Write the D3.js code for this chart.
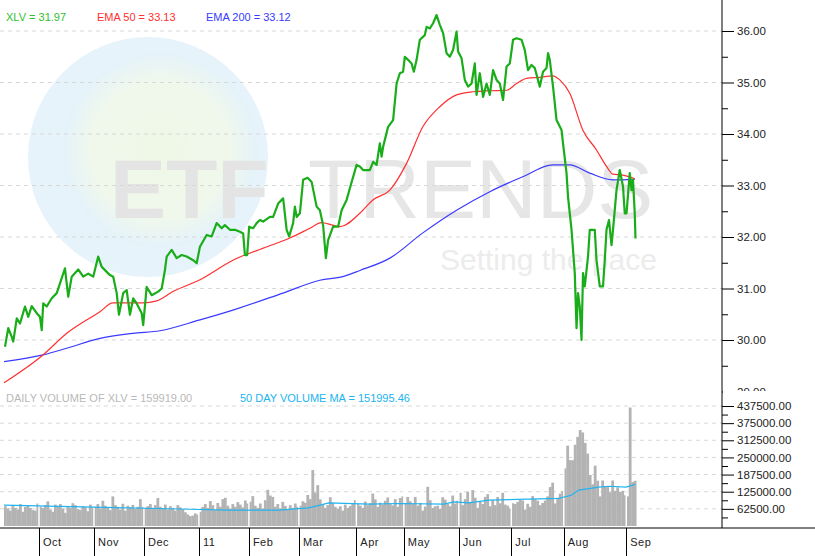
<!DOCTYPE html>
<html>
<head>
<meta charset="utf-8">
<script src="https://cdn.jsdelivr.net/npm/d3@7"></script>
<style>
  body { margin: 0; background: #fff; }
  text { font-family: "Liberation Sans", Arial, sans-serif; }
</style>
</head>
<body>
<div id="chart"></div>
<script>
// trading-day index (0 = mid Sep 2010) and XLV close
var priceDay = [0.4,1.7,3.1,3.7,5.1,6.4,8.4,9.7,11.1,13.1,14.4,15.1,15.7,17.1,19.1,21.1,22.4,24.4,25.7,27.1,29.7,31.7,33.7,35.7,37.7,39.1,42.4,43.7,45.1,46,47.7,49.1,50.4,51.7,53.1,55.1,55.7,57.1,59.1,61.7,63.1,64.4,65.1,67.1,69.1,71.1,73.1,75.7,77.1,78.4,81.1,83.1,85.1,87.1,88.4,90.4,92.4,94.4,95.7,96.4,97.3,98.1,99.7,101.1,102.4,103.7,106.4,107.7,109.7,111.7,113.1,114.1,115.7,116.4,117.1,118.4,119.7,121.5,123.1,125.1,126.4,127.7,128.8,129.7,131.7,133.7,135.1,137.1,139,141.1,142.4,143.7,146.4,147.7,149.1,150.4,151.1,151.7,153.7,155.7,157.1,158.4,159.7,160.4,161.7,163.1,164,165.1,166.4,168.4,169.1,170.4,171.7,173.1,174.4,175.7,177.1,178.4,179.7,181.1,181.7,183.1,184.4,185.7,187.1,188.4,189.1,190.4,191.7,193.1,194.4,195.7,197.1,198.4,199.7,201.1,202.4,203.7,205.1,207.1,208.4,209.7,211.1,212.4,214.4,215.7,217.1,217.7,218.4,219.7,221.1,223.1,223.7,225.1,225.7,227.1,227.7,228.4,229.1,229.7,230.4,231.1,231.7,232.4,233.7,234.4,236.4,237.1,238.4,239.7,240.4,241.1,242.1,243.1,243.7,245.1,246.4,247.7,248.4,249.1,250.4,251.1,251.7,252.4,252.7];
var priceClose = [29.87,30.23,30.06,29.97,30.42,30.32,30.65,30.45,30.66,30.52,30.45,30.19,30.71,30.65,30.81,30.91,31.10,31.39,30.84,31.23,31.37,31.23,31.29,31.23,31.62,31.42,31.26,31.23,30.91,30.49,30.91,30.97,30.49,30.81,30.71,30.52,30.29,31.03,30.87,30.94,31.00,31.36,31.62,31.75,31.59,31.65,31.62,31.55,31.49,31.81,32.04,32.01,32.27,32.17,32.23,32.14,32.14,32.10,32.07,31.65,31.65,32.20,32.17,32.27,32.33,32.30,32.39,32.39,32.65,32.75,32.14,32.01,32.27,32.59,32.39,32.46,33.11,33.15,33.07,32.59,32.52,32.23,31.59,31.94,32.20,32.20,32.52,32.72,33.05,33.40,33.37,33.30,33.30,33.46,33.40,33.82,33.56,33.75,34.14,34.27,34.98,35.18,35.21,35.50,35.44,35.37,35.21,35.44,35.83,35.92,36.08,36.05,36.15,36.31,36.12,35.96,35.57,35.50,35.63,35.99,35.60,35.47,35.05,34.92,34.98,35.37,34.76,35.18,34.72,34.98,34.76,35.24,35.05,34.98,34.66,35.31,35.37,35.83,35.86,35.83,35.63,35.24,35.34,35.28,34.92,35.21,35.28,35.57,35.44,34.92,34.27,34.08,33.82,33.24,32.78,32.14,31.75,31.30,30.23,30.91,30.65,30.00,31.30,31.04,31.62,32.14,32.14,31.55,31.04,31.04,31.55,32.14,32.33,31.84,32.14,32.91,33.30,32.98,32.46,32.46,33.24,32.91,33.11,32.46,31.97];

var ema50Day = [0,15.6,25.1,38.4,43.6,55.6,61.1,67.6,78.4,91.6,105.2,114.4,122.4,127.1,131.6,134.4,142.4,147.6,154.4,161.1,167.6,174.4,181.1,187.6,194.4,201.1,205.1,209.1,214.4,219.6,222.4,226.4,231.6,237.1,241.1,243.6,247.6,252.4];
var ema50Val = [29.17,29.71,30.13,30.55,30.72,30.72,30.76,30.94,31.17,31.55,31.81,31.98,32.17,32.28,32.23,32.20,32.46,32.72,32.91,33.43,34.14,34.53,34.76,34.82,34.84,34.85,34.98,35.08,35.10,35.13,35.05,34.79,34.08,33.69,33.37,33.22,33.20,33.13];

var ema200Day = [0,15.6,25.1,38.4,51.6,62.4,78.4,91.6,111.6,126.4,135.6,142.4,154.4,167.6,181.1,194.4,207.6,219.6,226.4,234.4,243.6,252.4];
var ema200Val = [29.58,29.71,29.84,30.03,30.13,30.18,30.39,30.58,30.91,31.16,31.23,31.35,31.59,32.08,32.52,32.88,33.17,33.40,33.40,33.24,33.11,33.12];

// daily volume, thousands of shares
var volume = [
 72,64,56,76,66,60,80,52,70,74,66,58,56,82,
 70,66,76,90,60,52,78,72,80,64,48,70,66,83,76,62,58,72,68,54,78,66,
 70,80,64,92,74,66,58,108,76,70,60,81,56,74,68,77,62,70,98,70,
 66,72,80,66,76,102,70,64,78,60,72,66,56,76,68,62,50,42,36,38,46,42,
 52,70,80,66,91,76,58,84,70,98,103,74,64,80,70,87,78,68,93,82,
 89,109,74,66,82,64,94,132,111,106,70,80,64,88,73,60,76,66,82,70,
 74,90,85,113,98,204,122,149,97,80,66,76,105,83,70,62,72,56,78,66,73,81,95,
 80,74,66,89,76,83,118,97,70,85,79,92,104,80,75,98,70,102,108,
 84,106,90,80,106,74,84,56,71,143,94,66,72,74,62,105,96,80,72,111,82,92,
 121,76,98,125,88,131,103,66,90,80,106,116,72,95,76,106,83,121,78,74,64,
 83,80,88,95,93,60,81,70,109,98,92,76,84,93,108,142,158,82,103,118,127,
 210,293,240,240,296,325,350,341,303,264,186,152,220,165,108,166,146,142,123,166,128,141,124,128,112,
 108,432,160,165
];
var vmaDay = [0,40,70,90,110,122,130,146,158,176,180,186,194,222,227,230,238,242,249,252.5];
var vmaVal = [76,68,62,58,58,66,84,80,82,80,88,84,94,101,112,131,142,145,142,152];

var priceTicks = [30,31,32,33,34,35,36];
var volTicks = [62500,125000,187500,250000,312500,375000,437500];
var monthDay = [14,36,56,78,98,118,141,160,182,203,224,249];
var monthLabel = ["Oct","Nov","Dec","11","Feb","Mar","Apr","May","Jun","Jul","Aug","Sep"];

var W = 815, H = 556, axisX = 722, priceTop = 8, priceBot = 392, volTop = 392, volBot = 527;

var svg = d3.select("#chart").append("svg").attr("width", W).attr("height", H);

var x = d3.scaleLinear().domain([0, 252.5]).range([4, 635]);
var y = d3.scaleLinear().domain([30, 36]).range([340, 31]);
var yv = d3.scaleLinear().domain([0, 437500]).range([526, 406]);

svg.append("defs").append("clipPath").attr("id", "pclip")
   .append("rect").attr("x", 0).attr("y", priceTop).attr("width", axisX).attr("height", priceBot - priceTop);
svg.select("defs").append("clipPath").attr("id", "vclip")
   .append("rect").attr("x", 0).attr("y", volTop).attr("width", axisX).attr("height", volBot - volTop);
var grad = svg.select("defs").append("radialGradient").attr("id", "glow");
grad.append("stop").attr("offset", "0%").attr("stop-color", "#eef8e6");
grad.append("stop").attr("offset", "70%").attr("stop-color", "#f0f8ec");
grad.append("stop").attr("offset", "100%").attr("stop-color", "#e4f2fa");

// watermark
svg.append("circle").attr("cx", 148).attr("cy", 157).attr("r", 120).attr("fill", "#e6f3fb");
svg.append("circle").attr("cx", 160).attr("cy", 150).attr("r", 98).attr("fill", "url(#glow)");
svg.append("text").attr("x", 110).attr("y", 218).style("font-size", "84px").style("font-weight", "bold")
   .attr("fill", "#e4e4e4").text("ETF");
svg.append("text").attr("x", 308).attr("y", 218).style("font-size", "84px")
   .attr("fill", "#e6e6e6").text("TRENDS");
svg.append("text").attr("x", 440).attr("y", 270).style("font-size", "30px")
   .attr("fill", "#ececec").text("Setting the pace");

// grid
svg.append("g").selectAll("line").data(priceTicks).enter().append("line")
   .attr("x1", 0).attr("x2", axisX).attr("y1", d => y(d)).attr("y2", d => y(d))
   .attr("stroke", "#d8d8d8").attr("stroke-dasharray", "4,4");
svg.append("g").selectAll("line").data(volTicks).enter().append("line")
   .attr("x1", 0).attr("x2", axisX).attr("y1", d => yv(d)).attr("y2", d => yv(d))
   .attr("stroke", "#d8d8d8").attr("stroke-dasharray", "4,4");

// volume bars
var bw = x(1) - x(0);
svg.append("g").attr("clip-path", "url(#vclip)").selectAll("rect").data(volume).enter().append("rect")
   .attr("x", (d, i) => x(i)).attr("width", bw + 0.3)
   .attr("y", d => yv(d * 1000)).attr("height", d => yv(0) - yv(d * 1000))
   .attr("fill", "#b3b3b3");
svg.append("g").selectAll("line").data(monthDay).enter().append("line")
   .attr("x1", d => x(d)).attr("x2", d => x(d)).attr("y1", 440).attr("y2", volBot)
   .attr("stroke", "#fff").attr("stroke-width", 1.5);

var vline = d3.line().x(d => x(d[0])).y(d => yv(d[1] * 1000));
svg.append("path").datum(d3.zip(vmaDay, vmaVal)).attr("d", vline)
   .attr("fill", "none").attr("stroke", "#20b4f0").attr("stroke-width", 1.2);

// price lines
var pline = d3.line().x(d => x(d[0])).y(d => y(d[1]));
var pg = svg.append("g").attr("clip-path", "url(#pclip)");
pg.append("path").datum(d3.zip(ema200Day, ema200Val)).attr("d", pline.curve(d3.curveMonotoneX))
  .attr("fill", "none").attr("stroke", "#3a3aff").attr("stroke-width", 1.2);
pg.append("path").datum(d3.zip(ema50Day, ema50Val)).attr("d", pline)
  .attr("fill", "none").attr("stroke", "#ff3030").attr("stroke-width", 1.2);
pg.append("path").datum(d3.zip(priceDay, priceClose)).attr("d", d3.line().x(d => x(d[0])).y(d => y(d[1])))
  .attr("fill", "none").attr("stroke", "#1aad1a").attr("stroke-width", 2.2).attr("stroke-linejoin", "round");

// legends
var leg = [["XLV = 31.97", "#2fbf2f", 6], ["EMA 50 = 33.13", "#ff3030", 97], ["EMA 200 = 33.12", "#3a3aff", 206]];
svg.append("g").selectAll("text").data(leg).enter().append("text")
   .attr("x", d => d[2]).attr("y", 21).attr("fill", d => d[1]).style("font-size", "11px").text(d => d[0]);
svg.append("text").attr("x", 6).attr("y", 402).attr("fill", "#b8b8b8").style("font-size", "11px")
   .text("DAILY VOLUME OF XLV = 159919.00");
svg.append("text").attr("x", 240).attr("y", 402).attr("fill", "#20b4f0").style("font-size", "11px")
   .text("50 DAY VOLUME MA = 151995.46");

// right axes
svg.append("line").attr("x1", axisX).attr("x2", axisX).attr("y1", 0).attr("y2", volBot + 1).attr("stroke", "#000");
var ya = svg.append("g").attr("transform", `translate(${axisX},0)`)
   .call(d3.axisRight(y).tickValues([29, 30, 31, 32, 33, 34, 35, 36]).tickSize(12).tickPadding(3).tickFormat(d3.format(".2f")));
ya.select(".domain").remove();
svg.append("g").attr("transform", `translate(${axisX},0)`)
   .call(d3.axisRight(y).tickValues(d3.range(29.5, 36.5, 1)).tickSize(6).tickFormat(""))
   .select(".domain").remove();
var va = svg.append("g").attr("transform", `translate(${axisX},0)`)
   .call(d3.axisRight(yv).tickValues(volTicks).tickSize(12).tickPadding(3).tickFormat(d3.format(".2f")));
va.select(".domain").remove();
svg.append("g").attr("transform", `translate(${axisX},0)`)
   .call(d3.axisRight(yv).tickValues(volTicks.map(d => d - 31250)).tickSize(6).tickFormat(""))
   .select(".domain").remove();
svg.selectAll(".tick text").style("font-size", "11.5px").style("font-family", "Liberation Sans, Arial").attr("fill", "#222");
// cover the cut-off 29.00 label under the volume panel
svg.append("rect").attr("x", axisX + 1).attr("y", 391).attr("width", 90).attr("height", 8).attr("fill", "#fff");

// bottom time axis
svg.append("line").attr("x1", 0).attr("x2", W).attr("y1", volBot + 1).attr("y2", volBot + 1).attr("stroke", "#000");
var ta = svg.append("g");
ta.selectAll("line").data(monthDay).enter().append("line")
  .attr("x1", d => Math.round(x(d)) + 0.5).attr("x2", d => Math.round(x(d)) + 0.5)
  .attr("y1", volBot + 1).attr("y2", H).attr("stroke", "#000");
ta.selectAll("text").data(monthDay).enter().append("text")
  .attr("x", d => x(d) + 4).attr("y", 546).style("font-size", "11px").style("letter-spacing", "0.5px")
  .attr("fill", "#222").text((d, i) => monthLabel[i]);
</script>
</body>
</html>
